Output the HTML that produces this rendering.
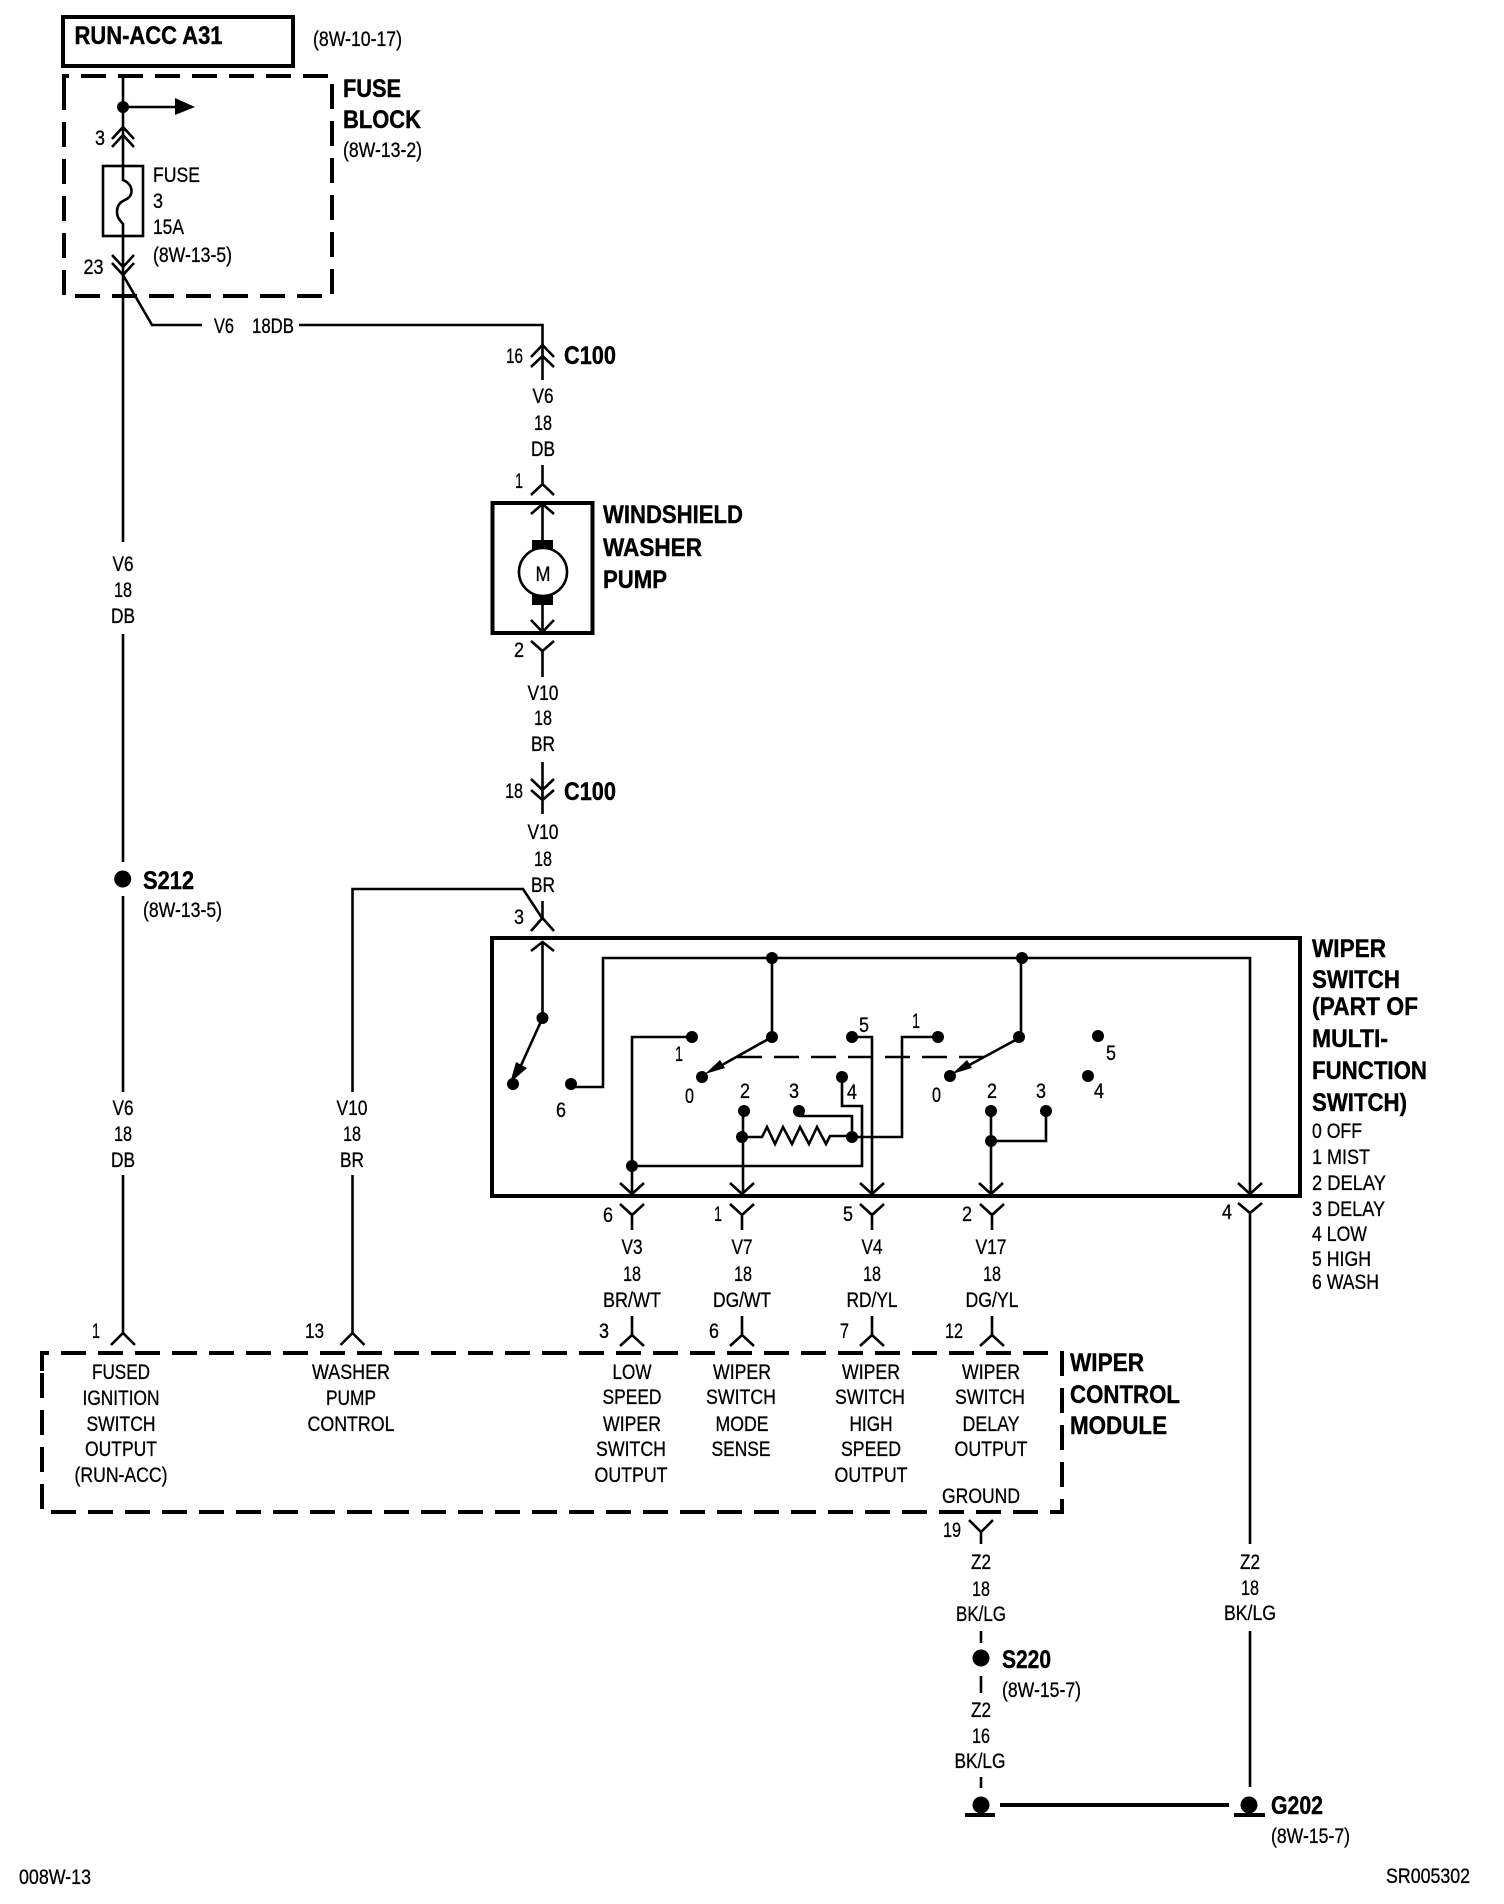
<!DOCTYPE html>
<html><head><meta charset="utf-8"><title>Wiper diagram</title>
<style>
html,body{margin:0;padding:0;background:#fff}
svg{display:block}
text{font-family:"Liberation Sans",sans-serif;fill:#000;font-size:21px;stroke:#000;stroke-width:.3}
.b{font-weight:bold;font-size:25px;stroke-width:.4}
.m{text-anchor:middle}
.w{fill:none;stroke:#000;stroke-width:2.6}
.t{fill:none;stroke:#000;stroke-width:4}
.d{fill:none;stroke:#000;stroke-width:4;stroke-dasharray:25 12}
</style></head><body>
<svg xmlns="http://www.w3.org/2000/svg" width="1504" height="1904" viewBox="0 0 1504 1904">
<rect width="1504" height="1904" fill="#fff"/>
<!-- top box -->
<rect class="t" x="63" y="17" width="230" height="49"/>
<text class="b" x="74.5" y="44" textLength="148" lengthAdjust="spacingAndGlyphs">RUN-ACC A31</text>
<text x="313" y="46" textLength="89" lengthAdjust="spacingAndGlyphs">(8W-10-17)</text>
<!-- fuse block -->
<path class="d" d="M64 96V76H332V296H64V96"/>
<text class="b" x="343" y="97" textLength="58" lengthAdjust="spacingAndGlyphs">FUSE</text>
<text class="b" x="343" y="128" textLength="78" lengthAdjust="spacingAndGlyphs">BLOCK</text>
<text x="343" y="157" textLength="79" lengthAdjust="spacingAndGlyphs">(8W-13-2)</text>
<path class="w" d="M123 76V180C128 182 131.500 186 131.500 191C131.500 197 127 199 123 201C119 203 117 207 117 212C117 218 120 220 123 224V542"/>
<circle cx="123" cy="107" r="6"/>
<path class="w" d="M123 107H176"/><path d="M175 98L195 107L175 115Z"/>
<path class="w" d="M112 139L123 127L134 139M112 147L123 135L134 147"/>
<text x="95" y="145" textLength="10" lengthAdjust="spacingAndGlyphs">3</text>
<rect class="w" x="103" y="166" width="40" height="70" />
<text x="153" y="182" textLength="47" lengthAdjust="spacingAndGlyphs">FUSE</text>
<text x="153" y="208" textLength="10" lengthAdjust="spacingAndGlyphs">3</text>
<text x="153" y="234" textLength="31" lengthAdjust="spacingAndGlyphs">15A</text>
<text x="153" y="262" textLength="79" lengthAdjust="spacingAndGlyphs">(8W-13-5)</text>
<path class="w" d="M112 255L123 267L134 255M112 263L123 275L134 263"/>
<text x="83.5" y="274" textLength="20" lengthAdjust="spacingAndGlyphs">23</text>
<path class="w" d="M123 275L152 325H202M299 325H542.5V380"/>
<text x="214" y="333" textLength="20" lengthAdjust="spacingAndGlyphs">V6</text>
<text x="252" y="333" textLength="42" lengthAdjust="spacingAndGlyphs">18DB</text>
<!-- C100 upper -->
<path class="w" d="M531 357L542.5 345L554 357M531 367L542.5 356L554 367"/>
<text x="506" y="363" textLength="17" lengthAdjust="spacingAndGlyphs">16</text>
<text class="b" x="564" y="364" textLength="52" lengthAdjust="spacingAndGlyphs">C100</text>
<text class="m" x="543" y="403" textLength="21" lengthAdjust="spacingAndGlyphs">V6</text>
<text class="m" x="543" y="430" textLength="18" lengthAdjust="spacingAndGlyphs">18</text>
<text class="m" x="543" y="456" textLength="24" lengthAdjust="spacingAndGlyphs">DB</text>
<path class="w" d="M542.5 465V484M531 495L542.5 484L554 495"/>
<text x="515" y="488" textLength="8" lengthAdjust="spacingAndGlyphs">1</text>
<!-- pump -->
<rect class="t" x="492.5" y="503" width="100" height="130"/>
<path class="w" d="M531 514L542.5 504L554 514M542.5 504V540M542.5 605V633M531 620L542.5 632L554 620"/>
<rect x="532" y="540" width="21" height="10"/>
<rect x="532" y="592" width="21" height="13"/>
<circle cx="543" cy="572" r="24" fill="#fff" stroke="#000" stroke-width="2.6"/>
<text class="m" x="543" y="581" textLength="15" lengthAdjust="spacingAndGlyphs">M</text>
<text class="b" x="603" y="523" textLength="140" lengthAdjust="spacingAndGlyphs">WINDSHIELD</text>
<text class="b" x="603" y="556" textLength="99" lengthAdjust="spacingAndGlyphs">WASHER</text>
<text class="b" x="603" y="588" textLength="64" lengthAdjust="spacingAndGlyphs">PUMP</text>
<path class="w" d="M531 641L542.500 651L554 641M542.500 651V677"/>
<text x="514" y="657" textLength="10" lengthAdjust="spacingAndGlyphs">2</text>
<text class="m" x="543" y="700" textLength="31" lengthAdjust="spacingAndGlyphs">V10</text>
<text class="m" x="543" y="725" textLength="18" lengthAdjust="spacingAndGlyphs">18</text>
<text class="m" x="543" y="751" textLength="24" lengthAdjust="spacingAndGlyphs">BR</text>
<!-- C100 lower -->
<path class="w" d="M542.5 762V814M531 779L542.5 790L554 779M531 790L542.5 800L554 790"/>
<text x="505" y="798" textLength="18" lengthAdjust="spacingAndGlyphs">18</text>
<text class="b" x="564" y="800" textLength="52" lengthAdjust="spacingAndGlyphs">C100</text>
<text class="m" x="543" y="839" textLength="31" lengthAdjust="spacingAndGlyphs">V10</text>
<text class="m" x="543" y="866" textLength="18" lengthAdjust="spacingAndGlyphs">18</text>
<text class="m" x="543" y="892" textLength="24" lengthAdjust="spacingAndGlyphs">BR</text>
<path class="w" d="M352.5 1092V889H523L542 918M542.5 901V918M531 931L542.5 918L554 931"/>
<text x="514" y="924" textLength="10" lengthAdjust="spacingAndGlyphs">3</text>
<!-- switch box -->
<rect class="t" x="492" y="938" width="808" height="258"/>
<g>
<path class="w" d="M531 951L542.5 942L554 951M542.5 942V1018L518 1072"/>
<path d="M510 1083L516 1062L527 1068Z"/>
<circle cx="542.5" cy="1018" r="6"/><circle cx="513" cy="1084" r="6"/>
<circle cx="571" cy="1084" r="6"/>
<path class="w" d="M571 1087H603V958H1250V1193"/>
<circle cx="772" cy="958" r="6"/>
<path class="w" d="M772 958V1037L715 1069"/>
<circle cx="772" cy="1037" r="6"/>
<path d="M705 1074L720 1060L725 1068Z"/>
<circle cx="702" cy="1077" r="6"/>
<text x="685" y="1103" textLength="9" lengthAdjust="spacingAndGlyphs">0</text>
<text x="675" y="1061" textLength="8" lengthAdjust="spacingAndGlyphs">1</text>
<text x="556" y="1117" textLength="10" lengthAdjust="spacingAndGlyphs">6</text>
<circle cx="692" cy="1037" r="6"/>
<path class="w" d="M692 1037H632V1193"/>
<circle cx="632" cy="1166" r="6"/>
<path class="w" d="M632 1166H862V1106H842V1077"/>
<circle cx="842" cy="1077" r="6"/>
<text x="847" y="1099" textLength="10" lengthAdjust="spacingAndGlyphs">4</text>
<circle cx="852" cy="1037" r="6"/>
<path class="w" d="M852 1037H872V1193"/>
<text x="859" y="1032" textLength="10" lengthAdjust="spacingAndGlyphs">5</text>
<circle cx="744" cy="1111" r="6"/>
<path class="w" d="M743 1111V1193"/>
<text x="740" y="1098" textLength="10" lengthAdjust="spacingAndGlyphs">2</text>
<circle cx="742" cy="1137" r="6"/>
<path class="w" d="M742 1137H762L767 1127L775 1144L783 1127L792 1144L800 1127L809 1144L817 1127L826 1144L830 1136H852"/>
<circle cx="852" cy="1137" r="6"/>
<circle cx="799" cy="1111" r="6"/>
<path class="w" d="M799 1116H852V1137"/>
<text x="789" y="1098" textLength="10" lengthAdjust="spacingAndGlyphs">3</text>
<path class="w" d="M852 1137H902V1037H938"/>
<circle cx="938" cy="1037" r="6"/>
<text x="912" y="1028" textLength="8" lengthAdjust="spacingAndGlyphs">1</text>
<path class="w" stroke-dasharray="25 12" d="M737 1057H984"/>
<circle cx="1022" cy="958" r="6"/>
<path class="w" d="M1021 958V1037L962 1069"/>
<circle cx="1019" cy="1037" r="6"/>
<path d="M952 1074L967 1060L972 1068Z"/>
<circle cx="950" cy="1076" r="6"/>
<text x="932" y="1102" textLength="9" lengthAdjust="spacingAndGlyphs">0</text>
<circle cx="1098" cy="1036" r="6"/>
<text x="1106" y="1060" textLength="10" lengthAdjust="spacingAndGlyphs">5</text>
<circle cx="1088" cy="1076" r="6"/>
<text x="1094" y="1098" textLength="10" lengthAdjust="spacingAndGlyphs">4</text>
<circle cx="991" cy="1111" r="6"/>
<text x="987" y="1098" textLength="10" lengthAdjust="spacingAndGlyphs">2</text>
<circle cx="1046" cy="1111" r="6"/>
<text x="1036" y="1098" textLength="10" lengthAdjust="spacingAndGlyphs">3</text>
<circle cx="991" cy="1141" r="6"/>
<path class="w" d="M991 1111V1193M991 1141H1046V1111"/>
<!-- inner arrow chevrons -->
<path class="w" d="M620 1183L632 1194L644 1183M730 1183L742 1194L754 1183M860 1183L872 1194L884 1183M979 1183L991 1194L1003 1183M1238 1183L1250 1194L1262 1183"/>
</g>
<!-- switch labels -->
<text class="b" x="1312" y="957" textLength="74" lengthAdjust="spacingAndGlyphs">WIPER</text>
<text class="b" x="1312" y="988" textLength="88" lengthAdjust="spacingAndGlyphs">SWITCH</text>
<text class="b" x="1312" y="1015" textLength="106" lengthAdjust="spacingAndGlyphs">(PART OF</text>
<text class="b" x="1312" y="1047" textLength="76" lengthAdjust="spacingAndGlyphs">MULTI-</text>
<text class="b" x="1312" y="1079" textLength="115" lengthAdjust="spacingAndGlyphs">FUNCTION</text>
<text class="b" x="1312" y="1111" textLength="95" lengthAdjust="spacingAndGlyphs">SWITCH)</text>
<text x="1312" y="1138" textLength="50" lengthAdjust="spacingAndGlyphs">0 OFF</text>
<text x="1312" y="1164" textLength="58" lengthAdjust="spacingAndGlyphs">1 MIST</text>
<text x="1312" y="1190" textLength="74" lengthAdjust="spacingAndGlyphs">2 DELAY</text>
<text x="1312" y="1216" textLength="73" lengthAdjust="spacingAndGlyphs">3 DELAY</text>
<text x="1312" y="1241" textLength="55" lengthAdjust="spacingAndGlyphs">4 LOW</text>
<text x="1312" y="1266" textLength="59" lengthAdjust="spacingAndGlyphs">5 HIGH</text>
<text x="1312" y="1289" textLength="67" lengthAdjust="spacingAndGlyphs">6 WASH</text>
<!-- outer connectors below switch -->
<path class="w" d="M620 1204L632 1215L644 1204M632 1215V1230M730 1204L742 1215L754 1204M742 1215V1230M860 1204L872 1215L884 1204M872 1215V1230M980 1204L992 1215L1004 1204M992 1215V1230M1238 1203L1250 1213L1262 1203M1250 1213V1544"/>
<text x="603" y="1222" textLength="10" lengthAdjust="spacingAndGlyphs">6</text>
<text x="714" y="1221" textLength="8" lengthAdjust="spacingAndGlyphs">1</text>
<text x="843" y="1221" textLength="10" lengthAdjust="spacingAndGlyphs">5</text>
<text x="962" y="1221" textLength="10" lengthAdjust="spacingAndGlyphs">2</text>
<text x="1222" y="1219" textLength="10" lengthAdjust="spacingAndGlyphs">4</text>
<text class="m" x="632" y="1254" textLength="21" lengthAdjust="spacingAndGlyphs">V3</text>
<text class="m" x="632" y="1281" textLength="18" lengthAdjust="spacingAndGlyphs">18</text>
<text class="m" x="632" y="1307" textLength="58" lengthAdjust="spacingAndGlyphs">BR/WT</text>
<text class="m" x="742" y="1254" textLength="21" lengthAdjust="spacingAndGlyphs">V7</text>
<text class="m" x="743" y="1281" textLength="18" lengthAdjust="spacingAndGlyphs">18</text>
<text class="m" x="742" y="1307" textLength="58" lengthAdjust="spacingAndGlyphs">DG/WT</text>
<text class="m" x="872" y="1254" textLength="21" lengthAdjust="spacingAndGlyphs">V4</text>
<text class="m" x="872" y="1281" textLength="18" lengthAdjust="spacingAndGlyphs">18</text>
<text class="m" x="872" y="1307" textLength="51" lengthAdjust="spacingAndGlyphs">RD/YL</text>
<text class="m" x="991" y="1254" textLength="31" lengthAdjust="spacingAndGlyphs">V17</text>
<text class="m" x="992" y="1281" textLength="18" lengthAdjust="spacingAndGlyphs">18</text>
<text class="m" x="992" y="1307" textLength="53" lengthAdjust="spacingAndGlyphs">DG/YL</text>
<path class="w" d="M632 1316V1335M620 1346L632 1335L644 1346M742 1316V1335M730 1346L742 1335L754 1346M872 1316V1335M860 1346L872 1335L884 1346M992 1316V1335M980 1346L992 1335L1004 1346"/>
<text x="599" y="1338" textLength="10" lengthAdjust="spacingAndGlyphs">3</text>
<text x="709" y="1338" textLength="10" lengthAdjust="spacingAndGlyphs">6</text>
<text x="840" y="1338" textLength="9" lengthAdjust="spacingAndGlyphs">7</text>
<text x="945" y="1338" textLength="18" lengthAdjust="spacingAndGlyphs">12</text>
<!-- left wires -->
<circle cx="122.7" cy="879" r="8.5"/>
<path class="w" d="M123 634V862M123 896V1092M123 1175V1333M111 1345L123 1333L135 1345"/>
<text class="b" x="143" y="889" textLength="51" lengthAdjust="spacingAndGlyphs">S212</text>
<text x="143" y="917" textLength="79" lengthAdjust="spacingAndGlyphs">(8W-13-5)</text>
<text class="m" x="123" y="571" textLength="21" lengthAdjust="spacingAndGlyphs">V6</text>
<text class="m" x="123" y="597" textLength="18" lengthAdjust="spacingAndGlyphs">18</text>
<text class="m" x="123" y="623" textLength="24" lengthAdjust="spacingAndGlyphs">DB</text>
<text class="m" x="123" y="1115" textLength="21" lengthAdjust="spacingAndGlyphs">V6</text>
<text class="m" x="123" y="1141" textLength="18" lengthAdjust="spacingAndGlyphs">18</text>
<text class="m" x="123" y="1167" textLength="24" lengthAdjust="spacingAndGlyphs">DB</text>
<text class="m" x="352" y="1115" textLength="31" lengthAdjust="spacingAndGlyphs">V10</text>
<text class="m" x="352" y="1141" textLength="18" lengthAdjust="spacingAndGlyphs">18</text>
<text class="m" x="352" y="1167" textLength="24" lengthAdjust="spacingAndGlyphs">BR</text>
<path class="w" d="M352.5 1175V1333M340.5 1345L352.5 1333L364.5 1345"/>
<text x="92" y="1338" textLength="8" lengthAdjust="spacingAndGlyphs">1</text>
<text x="305" y="1338" textLength="19" lengthAdjust="spacingAndGlyphs">13</text>
<!-- module -->
<path class="d" d="M42 1371V1353H1062V1512H42V1371"/>
<text class="m" x="121" y="1379" textLength="58" lengthAdjust="spacingAndGlyphs">FUSED</text>
<text class="m" x="121" y="1405" textLength="77" lengthAdjust="spacingAndGlyphs">IGNITION</text>
<text class="m" x="121" y="1431" textLength="69" lengthAdjust="spacingAndGlyphs">SWITCH</text>
<text class="m" x="121" y="1456" textLength="72" lengthAdjust="spacingAndGlyphs">OUTPUT</text>
<text class="m" x="121" y="1482" textLength="93" lengthAdjust="spacingAndGlyphs">(RUN-ACC)</text>
<text class="m" x="351" y="1379" textLength="78" lengthAdjust="spacingAndGlyphs">WASHER</text>
<text class="m" x="351" y="1405" textLength="50" lengthAdjust="spacingAndGlyphs">PUMP</text>
<text class="m" x="351" y="1431" textLength="87" lengthAdjust="spacingAndGlyphs">CONTROL</text>
<text class="m" x="632" y="1379" textLength="39" lengthAdjust="spacingAndGlyphs">LOW</text>
<text class="m" x="632" y="1404" textLength="59" lengthAdjust="spacingAndGlyphs">SPEED</text>
<text class="m" x="632" y="1431" textLength="58" lengthAdjust="spacingAndGlyphs">WIPER</text>
<text class="m" x="631" y="1456" textLength="70" lengthAdjust="spacingAndGlyphs">SWITCH</text>
<text class="m" x="631" y="1482" textLength="73" lengthAdjust="spacingAndGlyphs">OUTPUT</text>
<text class="m" x="742" y="1379" textLength="58" lengthAdjust="spacingAndGlyphs">WIPER</text>
<text class="m" x="741" y="1404" textLength="70" lengthAdjust="spacingAndGlyphs">SWITCH</text>
<text class="m" x="742" y="1431" textLength="53" lengthAdjust="spacingAndGlyphs">MODE</text>
<text class="m" x="741" y="1456" textLength="59" lengthAdjust="spacingAndGlyphs">SENSE</text>
<text class="m" x="871" y="1379" textLength="58" lengthAdjust="spacingAndGlyphs">WIPER</text>
<text class="m" x="870" y="1404" textLength="70" lengthAdjust="spacingAndGlyphs">SWITCH</text>
<text class="m" x="871" y="1431" textLength="43" lengthAdjust="spacingAndGlyphs">HIGH</text>
<text class="m" x="871" y="1456" textLength="60" lengthAdjust="spacingAndGlyphs">SPEED</text>
<text class="m" x="871" y="1482" textLength="73" lengthAdjust="spacingAndGlyphs">OUTPUT</text>
<text class="m" x="991" y="1379" textLength="58" lengthAdjust="spacingAndGlyphs">WIPER</text>
<text class="m" x="990" y="1404" textLength="70" lengthAdjust="spacingAndGlyphs">SWITCH</text>
<text class="m" x="991" y="1431" textLength="57" lengthAdjust="spacingAndGlyphs">DELAY</text>
<text class="m" x="991" y="1456" textLength="73" lengthAdjust="spacingAndGlyphs">OUTPUT</text>
<text class="m" x="981" y="1503" textLength="78" lengthAdjust="spacingAndGlyphs">GROUND</text>
<text class="b" x="1070" y="1371" textLength="74" lengthAdjust="spacingAndGlyphs">WIPER</text>
<text class="b" x="1070" y="1403" textLength="110" lengthAdjust="spacingAndGlyphs">CONTROL</text>
<text class="b" x="1070" y="1434" textLength="97" lengthAdjust="spacingAndGlyphs">MODULE</text>
<!-- ground section -->
<path class="w" d="M969 1520L981 1532L993 1520M981 1532V1544M981 1631V1643M981 1676V1693M981 1777V1788M1250 1631V1787"/>
<text x="943" y="1537" textLength="18" lengthAdjust="spacingAndGlyphs">19</text>
<text class="m" x="981" y="1569" textLength="20" lengthAdjust="spacingAndGlyphs">Z2</text>
<text class="m" x="981" y="1596" textLength="18" lengthAdjust="spacingAndGlyphs">18</text>
<text class="m" x="981" y="1621" textLength="50" lengthAdjust="spacingAndGlyphs">BK/LG</text>
<circle cx="981" cy="1658" r="8.5"/>
<text class="b" x="1002" y="1668" textLength="49" lengthAdjust="spacingAndGlyphs">S220</text>
<text x="1002" y="1697" textLength="79" lengthAdjust="spacingAndGlyphs">(8W-15-7)</text>
<text class="m" x="981" y="1717" textLength="20" lengthAdjust="spacingAndGlyphs">Z2</text>
<text class="m" x="981" y="1743" textLength="18" lengthAdjust="spacingAndGlyphs">16</text>
<text class="m" x="980" y="1768" textLength="51" lengthAdjust="spacingAndGlyphs">BK/LG</text>
<text class="m" x="1250" y="1569" textLength="20" lengthAdjust="spacingAndGlyphs">Z2</text>
<text class="m" x="1250" y="1595" textLength="18" lengthAdjust="spacingAndGlyphs">18</text>
<text class="m" x="1250" y="1620" textLength="52" lengthAdjust="spacingAndGlyphs">BK/LG</text>
<circle cx="981" cy="1805" r="8.5"/><rect x="965" y="1813" width="30" height="4"/>
<circle cx="1249" cy="1805" r="8.5"/><rect x="1234" y="1813" width="31" height="4"/>
<rect x="1000" y="1803" width="229" height="4"/>
<text class="b" x="1271" y="1814" textLength="52" lengthAdjust="spacingAndGlyphs">G202</text>
<text x="1271" y="1843" textLength="79" lengthAdjust="spacingAndGlyphs">(8W-15-7)</text>
<text x="1386" y="1883" textLength="84" lengthAdjust="spacingAndGlyphs">SR005302</text>
<text x="19" y="1884" textLength="72" lengthAdjust="spacingAndGlyphs">008W-13</text>
</svg>
</body></html>
